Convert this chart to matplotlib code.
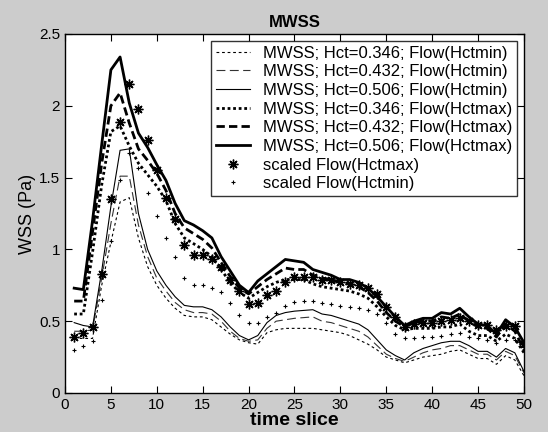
import matplotlib
matplotlib.use("Agg")
import matplotlib.pyplot as plt
import numpy as np

plt.rcParams['font.family'] = ['Liberation Sans', 'DejaVu Sans']

# time slices
t = np.arange(1, 51)

# MWSS with Flow(Hctmin)
mwss_346_min = [0.38, 0.38, 0.38, 0.75, 1.05, 1.33, 1.36, 1.08, 0.88, 0.75,
                0.66, 0.59, 0.54, 0.53, 0.53, 0.51, 0.46, 0.41, 0.37, 0.35,
                0.34, 0.42, 0.44, 0.45, 0.45, 0.45, 0.45, 0.44, 0.43, 0.42,
                0.40, 0.37, 0.34, 0.30, 0.25, 0.23, 0.21, 0.23, 0.25, 0.26,
                0.27, 0.29, 0.30, 0.27, 0.24, 0.24, 0.20, 0.26, 0.23, 0.12]
mwss_432_min = [0.43, 0.43, 0.44, 0.80, 1.18, 1.51, 1.51, 1.17, 0.95, 0.80,
                0.71, 0.63, 0.58, 0.56, 0.56, 0.55, 0.50, 0.43, 0.38, 0.36,
                0.37, 0.45, 0.50, 0.51, 0.52, 0.525, 0.53, 0.50, 0.49, 0.47,
                0.45, 0.43, 0.39, 0.33, 0.27, 0.24, 0.22, 0.25, 0.28, 0.30,
                0.31, 0.33, 0.33, 0.30, 0.27, 0.27, 0.23, 0.29, 0.26, 0.14]
mwss_506_min = [0.49, 0.47, 0.46, 0.85, 1.30, 1.69, 1.70, 1.25, 1.00, 0.85,
                0.75, 0.67, 0.61, 0.60, 0.60, 0.58, 0.53, 0.46, 0.40, 0.37,
                0.40, 0.49, 0.54, 0.56, 0.57, 0.575, 0.58, 0.55, 0.54, 0.52,
                0.50, 0.48, 0.44, 0.37, 0.30, 0.26, 0.23, 0.28, 0.31, 0.33,
                0.35, 0.36, 0.36, 0.33, 0.29, 0.29, 0.25, 0.31, 0.28, 0.15]

# MWSS with Flow(Hctmax)
mwss_346_max = [0.55, 0.55, 0.98, 1.45, 1.82, 1.86, 1.72, 1.60, 1.52, 1.44,
                1.34, 1.18, 1.08, 1.04, 1.00, 0.95, 0.86, 0.77, 0.70, 0.66,
                0.70, 0.74, 0.77, 0.79, 0.79, 0.79, 0.76, 0.74, 0.73, 0.72,
                0.71, 0.69, 0.66, 0.60, 0.53, 0.47, 0.44, 0.45, 0.45, 0.45,
                0.46, 0.46, 0.48, 0.43, 0.40, 0.40, 0.36, 0.41, 0.38, 0.28]
mwss_432_max = [0.64, 0.64, 1.12, 1.60, 2.00, 2.09, 1.88, 1.70, 1.62, 1.53,
                1.41, 1.25, 1.15, 1.11, 1.07, 1.01, 0.91, 0.81, 0.73, 0.69,
                0.74, 0.79, 0.83, 0.87, 0.86, 0.86, 0.82, 0.80, 0.79, 0.77,
                0.76, 0.74, 0.70, 0.64, 0.56, 0.50, 0.46, 0.49, 0.50, 0.50,
                0.53, 0.52, 0.55, 0.50, 0.46, 0.45, 0.39, 0.48, 0.43, 0.30]
mwss_506_max = [0.73, 0.72, 1.20, 1.73, 2.25, 2.34, 2.02, 1.81, 1.71, 1.59,
                1.48, 1.32, 1.20, 1.17, 1.13, 1.08, 0.95, 0.85, 0.75, 0.70,
                0.78, 0.83, 0.88, 0.93, 0.92, 0.91, 0.86, 0.84, 0.82, 0.79,
                0.79, 0.77, 0.73, 0.67, 0.60, 0.53, 0.47, 0.50, 0.52, 0.52,
                0.56, 0.55, 0.59, 0.53, 0.48, 0.47, 0.41, 0.51, 0.46, 0.35]

# scaled flow
flow_max = [0.39, 0.42, 0.46, 0.83, 1.35, 1.89, 2.15, 1.98, 1.76, 1.55,
            1.36, 1.21, 1.03, 0.96, 0.96, 0.93, 0.88, 0.79, 0.71, 0.62,
            0.63, 0.68, 0.71, 0.775, 0.805, 0.805, 0.805, 0.79, 0.787, 0.775,
            0.76, 0.752, 0.73, 0.69, 0.60, 0.527, 0.46, 0.48, 0.49, 0.49,
            0.50, 0.508, 0.52, 0.50, 0.47, 0.47, 0.44, 0.467, 0.467, 0.34]
flow_min = [0.30, 0.33, 0.36, 0.65, 1.06, 1.48, 1.67, 1.57, 1.39, 1.23,
            1.08, 0.95, 0.80, 0.75, 0.75, 0.73, 0.70, 0.63, 0.54, 0.49,
            0.49, 0.53, 0.56, 0.605, 0.636, 0.64, 0.64, 0.625, 0.62, 0.606,
            0.60, 0.59, 0.578, 0.55, 0.49, 0.41, 0.38, 0.385, 0.39, 0.39,
            0.40, 0.41, 0.42, 0.39, 0.38, 0.37, 0.35, 0.37, 0.37, 0.32]

fig = plt.figure(figsize=(5.48, 4.32), dpi=100, facecolor='#cccccc')
ax = fig.add_axes([0.1186, 0.0903, 0.8376, 0.831])

ax.plot(t, mwss_346_min, color='k', lw=0.8, dashes=(2.5, 2.5),
        label='MWSS; Hct=0.346; Flow(Hctmin)')
ax.plot(t, mwss_432_min, color='#333333', lw=0.8, dashes=(8, 4),
        label='MWSS; Hct=0.432; Flow(Hctmin)')
ax.plot(t, mwss_506_min, color='k', lw=0.8, ls='-',
        label='MWSS; Hct=0.506; Flow(Hctmin)')
ax.plot(t, mwss_346_max, color='k', lw=2.0, dashes=(1, 1),
        label='MWSS; Hct=0.346; Flow(Hctmax)')
ax.plot(t, mwss_432_max, color='k', lw=2.0, dashes=(3, 1.5),
        label='MWSS; Hct=0.432; Flow(Hctmax)')
ax.plot(t, mwss_506_max, color='k', lw=2.0, ls='-',
        label='MWSS; Hct=0.506; Flow(Hctmax)')
ax.plot(t, flow_max, ls='none', marker=(8, 2, 0), ms=7, mew=1.0,
        color='k', label='scaled Flow(Hctmax)')
ax.plot(t, flow_min, ls='none', marker='+', ms=3.5, mew=0.8,
        color='k', label='scaled Flow(Hctmin)')

ax.set_xlim(0, 50)
ax.set_ylim(0, 2.5)
ax.set_xticks(np.arange(0, 51, 5))
ax.set_yticks([0, 0.5, 1, 1.5, 2, 2.5])
ax.set_yticklabels(['0', '0.5', '1', '1.5', '2', '2.5'])
ax.tick_params(direction='in', top=True, right=True, labelsize=11, length=5)
for s in ax.spines.values():
    s.set_linewidth(1.0)

ax.set_title('MWSS', fontsize=12, fontweight='bold', pad=5)
ax.set_xlabel('time slice', fontsize=14, fontweight='bold', labelpad=0)
ax.set_ylabel('WSS (Pa)', fontsize=13, labelpad=2)

leg = ax.legend(loc='upper right', fontsize=12, frameon=True, fancybox=False,
                edgecolor='k', borderaxespad=0.4, handlelength=2.0,
                labelspacing=0.22, borderpad=0.3, handletextpad=0.8)
leg.get_frame().set_linewidth(1.0)

fig.savefig('out.png', dpi=100, facecolor=fig.get_facecolor())
